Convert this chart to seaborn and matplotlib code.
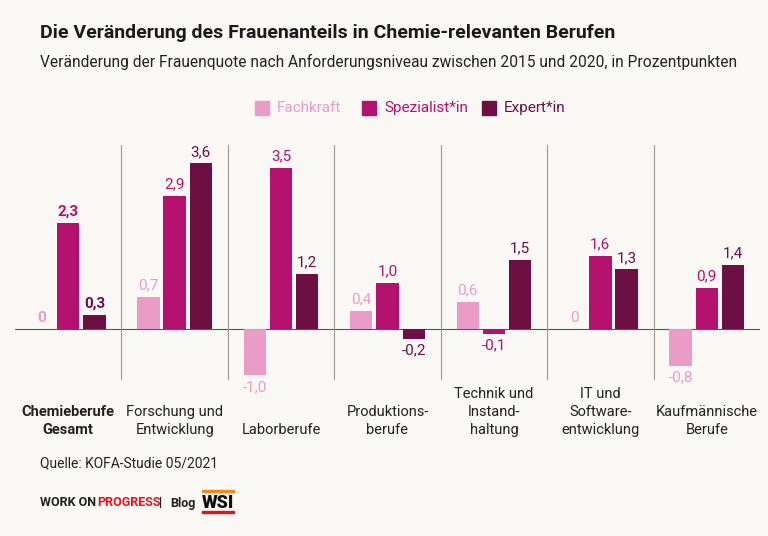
import matplotlib
matplotlib.use("Agg")
import matplotlib.pyplot as plt
import seaborn as sns
import pandas as pd

categories = ["Chemieberufe\nGesamt", "Forschung und\nEntwicklung", "Laborberufe", "Produktions-\nberufe",
              "Technik und\nInstand-\nhaltung", "IT und\nSoftware-\nentwicklung", "Kaufmännische\nBerufe"]
series = ["Fachkraft", "Spezialist*in", "Expert*in"]
fachkraft = [0.0, 0.7, -1.0, 0.4, 0.6, 0.0, -0.8]
spezialist = [2.3, 2.9, 3.5, 1.0, -0.1, 1.6, 0.9]
expert = [0.3, 3.6, 1.2, -0.2, 1.5, 1.3, 1.4]
colors = ["#eb9cc6", "#b5116f", "#6d0f43"]
bg = "#f9f8f4"

rows = []
for i, c in enumerate(categories):
    for s, vals in zip(series, [fachkraft, spezialist, expert]):
        rows.append({"cat": c, "series": s, "val": vals[i]})
df = pd.DataFrame(rows)

sns.set_theme(style="white")
plt.rcParams["font.family"] = ["Roboto", "DejaVu Sans"]
fig = plt.figure(figsize=(7.68, 5.36), dpi=100, facecolor=bg)
ax = fig.add_axes([15/768, 1-380/536, 745/768, 235/536])
ax.set_facecolor(bg)
sns.barplot(data=df, x="cat", y="val", hue="series", palette=colors, width=0.74, gap=0.15,
            ax=ax, legend=False, saturation=1, linewidth=0, edgecolor="none")
ax.set_ylim(-1.1, 4.0)
ax.set_xlim(-0.5, len(categories)-0.5)
for sp in ax.spines.values():
    sp.set_visible(False)
ax.set_xticks([]); ax.set_yticks([])
ax.set_xlabel(""); ax.set_ylabel("")
ax.axhline(0, color="#555555", lw=0.8, zorder=0)
for b in range(1, len(categories)):
    ax.axvline(b-0.5, color="#999999", lw=0.8, zorder=0)

slot = 0.74/3
for i in range(len(categories)):
    for j, vals in enumerate([fachkraft, spezialist, expert]):
        v = vals[i]
        x = i + (j-1)*slot
        txt = ("%.1f" % v).replace(".", ",") if v != 0 else "0"
        fw = "bold" if i == 0 else "normal"
        if v >= 0:
            ax.text(x, v + 0.1, txt, ha="center", va="bottom", color=colors[j], fontsize=11, fontweight=fw)
        else:
            ax.text(x, v - 0.1, txt, ha="center", va="top", color=colors[j], fontsize=11, fontweight=fw)
    ax.text(i, -2.33, categories[i], ha="center", va="bottom", fontsize=10.5, color="#222222",
            fontweight="bold" if i == 0 else "normal", linespacing=1.35)

fig.text(40/768, 1-33/536, "Die Veränderung des Frauenanteils in Chemie-relevanten Berufen",
         fontsize=14, fontweight="bold", color="#1a1a1a", va="center")
fig.text(40/768, 1-62/536, "Veränderung der Frauenquote nach Anforderungsniveau zwischen 2015 und 2020, in Prozentpunkten",
         fontsize=11.2, color="#222222", va="center")
lx = [255, 362, 482]
for s, c, x in zip(series, colors, lx):
    fig.patches.append(plt.Rectangle((x/768, 1-115/536), 14/768, 14/536, color=c, transform=fig.transFigure))
    fig.text((x+22)/768, 1-108/536, s, color=c, fontsize=11, va="center")
fig.text(40/768, 1-463/536, "Quelle: KOFA-Studie 05/2021", fontsize=10, color="#222222", va="center")
fig.text(40/768, 1-503/536, "WORK ON", fontsize=9, fontweight="bold", color="#222222", va="center")
fig.text(97/768, 1-503/536, "PROGRESS", fontsize=9, fontweight="bold", color="#e3141d", va="center")
fig.text(159/768, 1-503/536, "|", fontsize=9, fontweight="bold", color="#222222", va="center")
fig.text(170/768, 1-503/536, "Blog", fontsize=9, fontweight="bold", color="#222222", va="center")
fig.text(202/768, 1-503/536, "WSI", fontsize=13, fontweight="black", color="#111111", va="center")
fig.patches.append(plt.Rectangle((202/768, 1-492/536), 32/768, 2/536, color="#f08a1c", transform=fig.transFigure))
fig.patches.append(plt.Rectangle((202/768, 1-513/536), 32/768, 2/536, color="#e3141d", transform=fig.transFigure))
fig.savefig("out.png", dpi=100, facecolor=bg)
